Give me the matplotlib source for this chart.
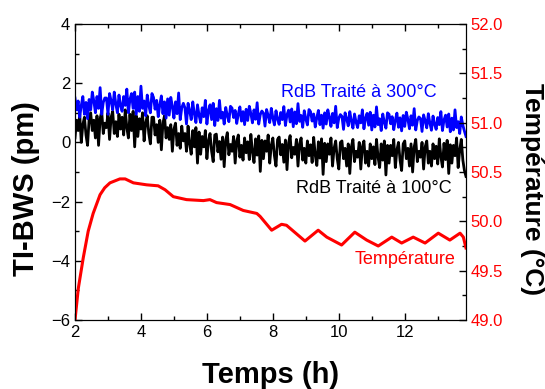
import numpy as np
import matplotlib
matplotlib.use("Agg")
import matplotlib.pyplot as plt
from matplotlib.ticker import MultipleLocator, FormatStrFormatter

plt.rcParams['font.family'] = ['Liberation Sans', 'DejaVu Sans']

# ---- data ----
t_start, t_end = 2.0, 13.85

bws_300 = [
    1.50, 1.10, 1.40, 0.85, 1.25, 1.55, 0.95, 1.35, 0.80, 1.45,
    1.10, 1.70, 1.40, 1.00, 1.55, 1.15, 1.85, 0.95, 1.35, 1.50,
    1.50, 0.95, 1.65, 1.40, 1.10, 1.70, 1.30, 1.00, 1.60, 1.25,
    1.05, 1.55, 1.25, 1.80, 1.00, 1.45, 1.65, 1.15, 1.70, 0.95,
    1.55, 1.05, 1.90, 1.15, 1.40, 0.90, 1.60, 1.25, 1.00, 1.65,
    1.52, 1.12, 1.42, 0.87, 1.27, 1.57, 0.97, 1.37, 0.82, 1.47,
    0.92, 1.52, 1.22, 0.82, 1.37, 0.97, 1.67, 0.77, 1.17, 1.32,
    1.17, 0.62, 1.32, 1.07, 0.77, 1.37, 0.97, 0.67, 1.27, 0.92,
    0.67, 1.17, 0.87, 1.42, 0.62, 1.07, 1.27, 0.77, 1.32, 0.57,
    1.14, 0.74, 1.42, 0.82, 1.02, 0.62, 1.18, 0.90, 0.70, 1.22,
    1.16, 0.84, 1.08, 0.64, 0.96, 1.20, 0.72, 1.04, 0.60, 1.12,
    0.74, 1.22, 0.98, 0.66, 1.10, 0.78, 1.34, 0.62, 0.94, 1.06,
    0.99, 0.55, 1.11, 0.91, 0.67, 1.15, 0.83, 0.59, 1.07, 0.79,
    0.61, 1.01, 0.77, 1.21, 0.57, 0.93, 1.09, 0.69, 1.13, 0.53,
    1.03, 0.63, 1.31, 0.71, 0.91, 0.51, 1.07, 0.79, 0.59, 1.11,
    1.04, 0.72, 0.96, 0.52, 0.84, 1.08, 0.60, 0.92, 0.48, 1.00,
    0.62, 1.10, 0.86, 0.54, 0.98, 0.66, 1.22, 0.50, 0.82, 0.94,
    0.88, 0.44, 1.00, 0.80, 0.56, 1.04, 0.72, 0.48, 0.96, 0.68,
    0.50, 0.90, 0.66, 1.10, 0.46, 0.82, 0.98, 0.58, 1.02, 0.42,
    0.92, 0.52, 1.20, 0.60, 0.80, 0.40, 0.96, 0.68, 0.48, 1.00,
    0.95, 0.63, 0.87, 0.43, 0.75, 0.99, 0.51, 0.83, 0.39, 0.91,
    0.54, 1.02, 0.78, 0.46, 0.90, 0.58, 1.14, 0.42, 0.74, 0.86,
    0.81, 0.37, 0.93, 0.73, 0.49, 0.97, 0.65, 0.41, 0.89, 0.61,
    0.44, 0.84, 0.60, 1.04, 0.40, 0.76, 0.92, 0.52, 0.96, 0.36,
    0.82, 0.42, 1.10, 0.50, 0.70, 0.30, 0.86, 0.58, 0.38, 0.20,
]

bws_100 = [
    0.15, 0.75, 0.40, 0.95, 0.00, 0.60, 0.85, 0.25, -0.10, 0.80,
    1.00, 0.40, 0.75, 0.15, 0.90, -0.10, 0.80, 1.05, 0.30, 0.65,
    0.50, 1.00, 0.10, 0.85, 1.05, 0.30, 0.70, 0.20, 0.95, 0.45,
    0.85, 0.25, 1.10, 0.50, 0.15, 0.95, 0.40, 1.05, -0.15, 0.90,
    0.20, 0.80, 0.45, 1.00, 0.05, 0.65, 0.90, 0.30, -0.05, 0.85,
    0.85, 0.25, 0.60, 0.00, 0.75, -0.25, 0.65, 0.90, 0.15, 0.50,
    0.10, 0.60, -0.30, 0.45, 0.65, -0.10, 0.30, -0.20, 0.55, 0.05,
    0.30, -0.30, 0.55, -0.05, -0.40, 0.40, -0.15, 0.50, -0.70, 0.35,
    -0.40, 0.20, -0.15, 0.40, -0.55, 0.05, 0.30, -0.30, -0.65, 0.25,
    0.28, -0.32, 0.03, -0.57, 0.18, -0.82, 0.08, 0.33, -0.42, -0.07,
    -0.30, 0.20, -0.70, 0.05, 0.25, -0.50, -0.10, -0.60, 0.15, -0.35,
    0.02, -0.58, 0.27, -0.33, -0.68, 0.12, -0.43, 0.22, -0.98, 0.07,
    -0.55, 0.05, -0.30, 0.25, -0.70, -0.10, 0.15, -0.45, -0.80, 0.10,
    0.18, -0.42, -0.07, -0.67, 0.08, -0.92, -0.02, 0.23, -0.52, -0.17,
    -0.40, 0.10, -0.80, -0.05, 0.15, -0.60, -0.20, -0.70, 0.05, -0.45,
    -0.08, -0.68, 0.17, -0.43, -0.78, 0.02, -0.53, 0.12, -1.08, -0.03,
    -0.65, -0.05, -0.40, 0.15, -0.80, -0.20, 0.05, -0.55, -0.90, 0.00,
    0.05, -0.55, -0.20, -0.80, -0.05, -1.05, -0.15, 0.10, -0.65, -0.30,
    -0.50, 0.00, -0.90, -0.15, 0.05, -0.70, -0.30, -0.80, -0.05, -0.55,
    -0.15, -0.75, 0.10, -0.50, -0.85, -0.05, -0.60, 0.05, -1.10, -0.10,
    -0.70, -0.10, -0.45, 0.10, -0.85, -0.25, 0.00, -0.60, -0.95, -0.05,
    0.05, -0.55, -0.20, -0.80, -0.05, -1.00, -0.15, 0.10, -0.65, -0.30,
    -0.50, 0.00, -0.90, -0.15, 0.05, -0.70, -0.30, -0.80, -0.05, -0.55,
    -0.13, -0.73, 0.12, -0.48, -0.83, -0.03, -0.58, 0.07, -1.05, -0.08,
    -0.70, -0.10, -0.45, 0.15, -0.85, -0.25, 0.10, -0.60, -0.95, -1.15,
]

temp_t = [2.0, 2.1, 2.25, 2.4, 2.55, 2.76, 2.9, 3.06, 3.36, 3.52, 3.77,
          4.17, 4.52, 4.73, 4.98, 5.38, 5.89, 6.09, 6.29, 6.70, 7.10, 7.51,
          7.61, 7.71, 7.96, 8.26, 8.41, 8.97, 9.37, 9.63, 10.08, 10.48,
          10.84, 11.19, 11.60, 11.90, 12.25, 12.61, 13.01, 13.36, 13.67,
          13.77, 13.85]
temp_v = [49.0, 49.32, 49.63, 49.9, 50.08, 50.27, 50.34, 50.39, 50.43, 50.43,
          50.39, 50.37, 50.36, 50.32, 50.25, 50.22, 50.21, 50.22, 50.19,
          50.17, 50.11, 50.08, 50.05, 50.01, 49.91, 49.97, 49.96, 49.80,
          49.91, 49.84, 49.76, 49.89, 49.81, 49.75, 49.84, 49.78, 49.84,
          49.78, 49.88, 49.81, 49.88, 49.84, 49.73]

t_bws = np.linspace(t_start, t_end, len(bws_300))

# ---- figure ----
W, H = 545, 389
fig = plt.figure(figsize=(W / 100, H / 100), dpi=100)
ax = fig.add_axes([75 / W, 1 - 320 / H, (466 - 75) / W, (320 - 24) / H])

ax.plot(t_bws, bws_100, color='black', lw=2.0, zorder=2)
ax.plot(t_bws, bws_300, color='#0000ff', lw=2.0, zorder=3)

ax.set_xlim(t_start, t_end)
ax.set_ylim(-6, 4)
ax.xaxis.set_major_locator(MultipleLocator(2))
ax.xaxis.set_minor_locator(MultipleLocator(1))
ax.yaxis.set_major_locator(MultipleLocator(2))
ax.yaxis.set_minor_locator(MultipleLocator(1))
ax.tick_params(which='both', direction='in', top=True, right=False,
               labelsize=12, width=1)
ax.tick_params(which='major', length=5)
ax.tick_params(which='minor', length=3)

ax2 = ax.twinx()
ax2.plot(temp_t, temp_v, color='#ff0000', lw=2.2)
ax2.set_ylim(49.0, 52.0)
ax2.yaxis.set_major_locator(MultipleLocator(0.5))
ax2.yaxis.set_minor_locator(MultipleLocator(0.25))
ax2.yaxis.set_major_formatter(FormatStrFormatter('%.1f'))
ax2.tick_params(which='both', direction='in', labelsize=12,
                labelcolor='#ff0000', width=1)
ax2.tick_params(which='major', length=5)
ax2.tick_params(which='minor', length=3)

# axis titles
fig.text(271 / W, 1 - 375 / H, 'Temps (h)', fontsize=21, fontweight='bold',
         ha='center', va='center')
fig.text(26 / W, 1 - 189 / H, 'TI-BWS (pm)', fontsize=21, fontweight='bold',
         rotation=90, ha='center', va='center')
fig.text(532 / W, 1 - 189 / H, 'Température (°C)', fontsize=19,
         fontweight='bold', rotation=270, ha='center', va='center')

# series labels
ax.text(10.6, 1.67, 'RdB Traité à 300°C', color='#0000ff', fontsize=13,
        ha='center', va='center')
ax2.text(13.42, 50.33, 'RdB Traité à 100°C', color='black', fontsize=13,
         ha='right', va='center')
ax2.text(13.52, 49.61, 'Température', color='#ff0000', fontsize=13,
         ha='right', va='center')

fig.savefig('out.png', dpi=100)
